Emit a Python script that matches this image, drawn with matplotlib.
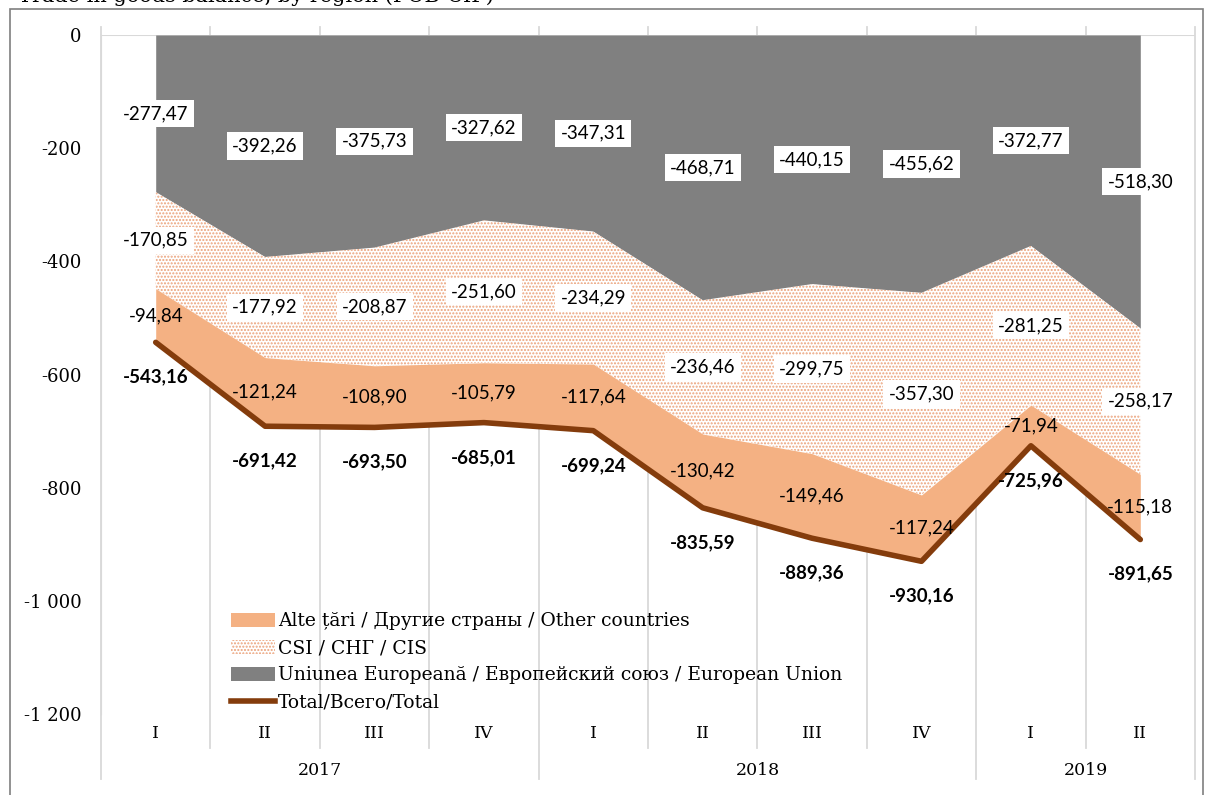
import matplotlib.pyplot as plt
import matplotlib.patches as mpatches
from matplotlib.lines import Line2D
from matplotlib.ticker import FuncFormatter

# quarters 2017 I .. 2019 II
quarters = ["I", "II", "III", "IV", "I", "II", "III", "IV", "I", "II"]
years = ["2017", "2018", "2019"]
year_spans = [(0, 4), (4, 8), (8, 10)]

eu = [-277.47, -392.26, -375.73, -327.62, -347.31, -468.71, -440.15, -455.62, -372.77, -518.30]
cis = [-170.85, -177.92, -208.87, -251.60, -234.29, -236.46, -299.75, -357.30, -281.25, -258.17]
other = [-94.84, -121.24, -108.90, -105.79, -117.64, -130.42, -149.46, -117.24, -71.94, -115.18]
total = [-543.16, -691.42, -693.50, -685.01, -699.24, -835.59, -889.36, -930.16, -725.96, -891.65]

yticks = [0, -200, -400, -600, -800, -1000, -1200]

C_EU = "#808080"
C_OTHER = "#F4B183"
C_TOTAL = "#843C0C"
C_GRID = "#D9D9D9"
C_DOTS = "#EBA27A"
SERIF = "DejaVu Serif"
SANS = "Lato"

plt.rcParams["hatch.color"] = C_DOTS
plt.rcParams["hatch.linewidth"] = 1.0

fig = plt.figure(figsize=(12.06, 7.95), dpi=100)
ax = fig.add_axes([101 / 1206, 1 - 714 / 795, 1094 / 1206, 679 / 795])

x = list(range(len(quarters)))
eu_cis = [a + b for a, b in zip(eu, cis)]

ax.fill_between(x, 0, eu, color=C_EU, lw=0, zorder=2)
ax.fill_between(x, eu, eu_cis, facecolor="white", hatch=".....",
                edgecolor=C_DOTS, lw=0, zorder=2)
ax.fill_between(x, eu_cis, total, color=C_OTHER, lw=0, zorder=2)
ax.plot(x, total, color=C_TOTAL, lw=4, solid_capstyle="round", zorder=3)

ax.set_xlim(-0.5, len(quarters) - 0.5)
ax.set_ylim(-1200, 0)
ax.set_yticks(yticks)
ax.yaxis.set_major_formatter(FuncFormatter(
    lambda v, p: f"{int(v):,}".replace(",", " ")))
ax.tick_params(axis="y", length=0, pad=14, labelsize=13)
for lbl in ax.get_yticklabels():
    lbl.set_fontfamily(SERIF)
ax.set_xticks([])
for s in ["top", "right", "bottom"]:
    ax.spines[s].set_visible(False)
ax.spines["left"].set_color(C_GRID)

# top category axis line and boundaries
ax.axhline(0, color=C_GRID, lw=1.5, zorder=1)
trans = ax.get_xaxis_transform()
for k in range(len(quarters) + 1):
    xb = k - 0.5
    bottom = -0.095 if k in (0, 4, 8, 10) else -0.05
    ax.plot([xb, xb], [bottom, 1.012], color=C_GRID, lw=1.3,
            transform=trans, clip_on=False, zorder=1)

# category labels
for i, q in enumerate(quarters):
    ax.text(i, -0.028, q, transform=trans, ha="center", va="center",
            fontsize=12.5, family=SERIF)
for yr, (a, b) in zip(years, year_spans):
    ax.text((a + b - 1) / 2, -0.083, yr, transform=trans, ha="center",
            va="center", fontsize=12.5, family=SERIF)

# data labels
box = dict(boxstyle="square,pad=0.28", fc="white", ec="none")
fmt = lambda v: f"{v:.2f}".replace(".", ",")
for i in x:
    ax.text(i, eu[i] / 2, fmt(eu[i]), ha="center", va="center",
            fontsize=13.5, family=SANS, bbox=box, zorder=5)
    ax.text(i, eu[i] + cis[i] / 2, fmt(cis[i]), ha="center", va="center",
            fontsize=13.5, family=SANS, bbox=box, zorder=5)
    ax.text(i, eu_cis[i] + other[i] / 2, fmt(other[i]), ha="center",
            va="center", fontsize=13.5, family=SANS, zorder=5)
    ax.annotate(fmt(total[i]), (i, total[i]), xytext=(0, -25),
                textcoords="offset points", ha="center", va="center",
                fontsize=13.5, family=SANS, fontweight="bold", zorder=5)

handles = [
    mpatches.Patch(facecolor=C_OTHER, edgecolor="none"),
    mpatches.Patch(facecolor="white", hatch=".....", edgecolor=C_DOTS, lw=0),
    mpatches.Patch(facecolor=C_EU, edgecolor="none"),
    Line2D([0], [0], color=C_TOTAL, lw=4),
]
labels = [
    "Alte țări / Другие страны / Other countries",
    "CSI / СНГ / CIS",
    "Uniunea Europeană / Европейский союз / European Union",
    "Total/Всего/Total",
]
fig.legend(handles, labels, loc="upper left",
           bbox_to_anchor=(224 / 1206, 1 - 605 / 795), frameon=False,
           prop={"family": SERIF, "size": 13.5}, handlelength=2.3,
           handleheight=0.8, handletextpad=0.2, labelspacing=0.48,
           borderaxespad=0)

# outer frame and clipped title
fig.patches.append(mpatches.Rectangle((10 / 1206, -0.05), 1193 / 1206,
                                      1.05 - 9 / 795, transform=fig.transFigure,
                                      fill=False, ec="#7F7F7F", lw=1.2))
fig.text(18 / 1206, 1 - 2 / 795, "Trade in goods balance, by region (FOB-CIF)",
         family=SERIF, fontsize=15, va="baseline", ha="left")

fig.savefig("out.png", dpi=100)
